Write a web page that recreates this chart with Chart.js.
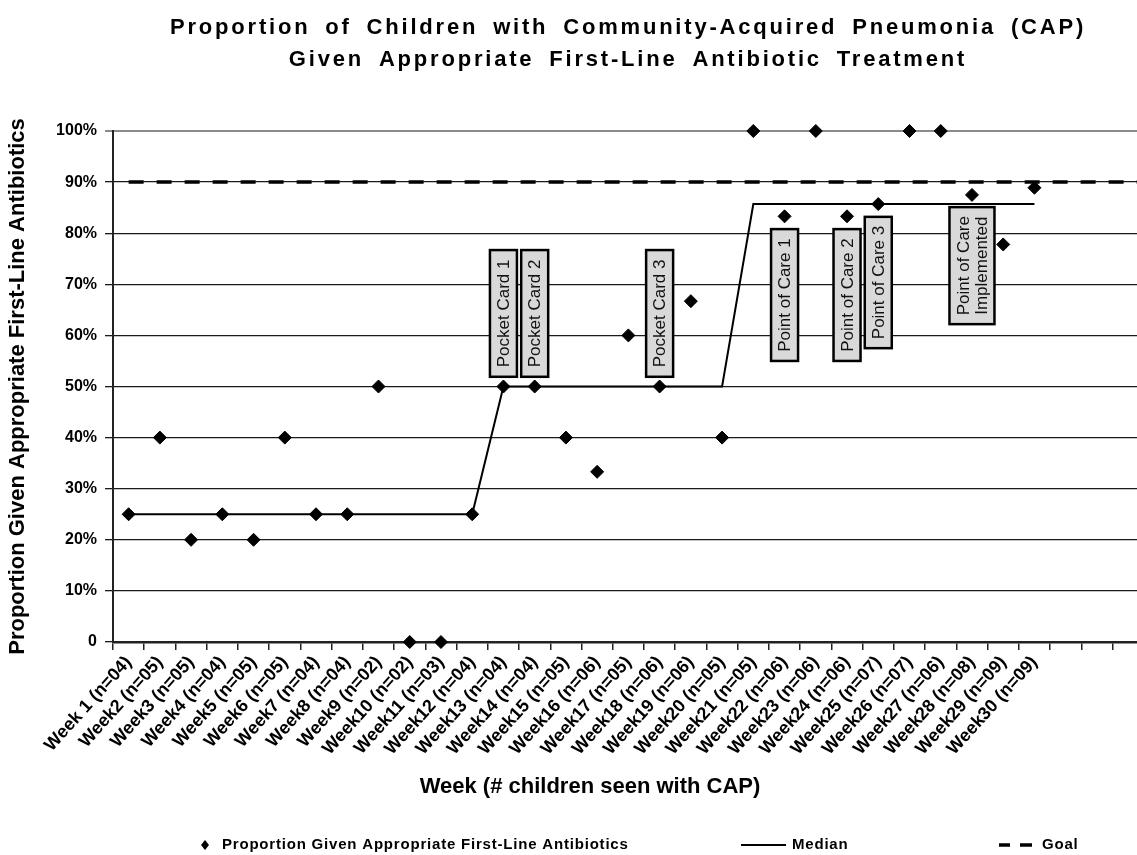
<!DOCTYPE html>
<html>
<head>
<meta charset="utf-8">
<script src="https://cdn.jsdelivr.net/npm/chart.js@4.4.1/dist/chart.umd.min.js"></script>
<style>
  html, body { margin: 0; padding: 0; background: #ffffff; }
  #wrap { width: 1137px; height: 855px; }
</style>
</head>
<body>
<div id="wrap"><canvas id="c" width="1137" height="855"></canvas></div>
<script>
// ---------------- data ----------------
const titleLines = [
  'Proportion of Children with Community-Acquired Pneumonia (CAP)',
  'Given Appropriate First-Line Antibiotic Treatment'
];
const xAxisTitle = 'Week (# children seen with CAP)';
const yAxisTitle = 'Proportion Given Appropriate First-Line Antibiotics';

const weeks = ['Week 1','Week2','Week3','Week4','Week5','Week6','Week7','Week8','Week9','Week10',
  'Week11','Week12','Week13','Week14','Week15','Week16','Week17','Week18','Week19','Week20',
  'Week21','Week22','Week23','Week24','Week25','Week26','Week27','Week28','Week29','Week30'];
const childrenSeen = ['04','05','05','04','05','05','04','04','02','02',
  '03','04','04','04','05','06','05','06','06','05',
  '05','06','06','06','07','07','06','08','09','09'];
const emptyCategories = ['', '', '', ''];

const proportion = [25, 40, 20, 25, 20, 40, 25, 25, 50, 0,
  0, 25, 50, 50, 40, 33.3, 60, 50, 66.7, 40,
  100, 83.3, 100, 83.3, 85.7, 100, 100, 87.5, 77.8, 88.9];
const median = [25, 25, 25, 25, 25, 25, 25, 25, 25, 25,
  25, 25, 50, 50, 50, 50, 50, 50, 50, 50,
  85.7, 85.7, 85.7, 85.7, 85.7, 85.7, 85.7, 85.7, 85.7, 85.7];
const goal = [90, 90, 90, 90, 90, 90, 90, 90, 90, 90,
  90, 90, 90, 90, 90, 90, 90, 90, 90, 90,
  90, 90, 90, 90, 90, 90, 90, 90, 90, 90,
  90, 90, 90, 90];
const yTickValues = [0, 10, 20, 30, 40, 50, 60, 70, 80, 90, 100];

// interventions: label lines, week number, value range of the box
const interventionLabels = [['Pocket Card 1'], ['Pocket Card 2'], ['Pocket Card 3'],
  ['Point of Care 1'], ['Point of Care 2'], ['Point of Care 3'], ['Point of Care', 'Implemented']];
const interventionWeeks = [13, 14, 18, 22, 24, 25, 28];
const interventionTop = [76.7, 76.7, 76.7, 80.8, 80.8, 83.2, 85.1];
const interventionBottom = [51.9, 51.9, 51.9, 55.0, 55.0, 57.5, 62.2];

const legendLabels = ['Proportion Given Appropriate First-Line Antibiotics', 'Median', 'Goal'];

// ---------------- chart ----------------
const categories = weeks.map((w, i) => w + ' (n=' + childrenSeen[i] + ')').concat(emptyCategories);
const FONT = '"Liberation Sans", Arial, sans-serif';
const PLOT_RIGHT = 1175; // plot area continues past the right edge of the picture

const textPlugin = {
  id: 'textPlugin',
  afterLayout(chart) {
    const x = chart.scales.x;
    x.right = PLOT_RIGHT;
    x.width = x.right - x.left;
    chart.chartArea.right = PLOT_RIGHT;
    chart.chartArea.width = PLOT_RIGHT - chart.chartArea.left;
    x.configure();
  },
  afterDatasetsDraw(chart) {
    const { ctx, scales: { x, y } } = chart;
    interventionLabels.forEach((lines, i) => {
      const cx = x.getPixelForValue(interventionWeeks[i] - 1);
      const top = y.getPixelForValue(interventionTop[i]);
      const bot = y.getPixelForValue(interventionBottom[i]);
      const lineH = 18;
      const w = lines.length * lineH + 9;
      ctx.save();
      ctx.fillStyle = '#d9d9d9';
      ctx.fillRect(cx - w / 2, top, w, bot - top);
      ctx.strokeStyle = '#000';
      ctx.lineWidth = 2.5;
      ctx.strokeRect(cx - w / 2, top, w, bot - top);
      ctx.translate(cx, (top + bot) / 2);
      ctx.rotate(-Math.PI / 2);
      ctx.font = '17px ' + FONT;
      ctx.fillStyle = '#111';
      ctx.textAlign = 'center';
      ctx.textBaseline = 'middle';
      lines.forEach((l, j) => ctx.fillText(l, 0, (j - (lines.length - 1) / 2) * lineH + 1));
      ctx.restore();
    });
  },
  afterDraw(chart) {
    const { ctx } = chart;
    // main title
    ctx.save();
    ctx.fillStyle = '#000';
    ctx.font = 'bold 22px ' + FONT;
    ctx.textAlign = 'center';
    ctx.textBaseline = 'middle';
    ctx.letterSpacing = '2.8px';
    ctx.wordSpacing = '6px';
    ctx.fillText(titleLines[0], 628, 28);
    ctx.fillText(titleLines[1], 628, 60);
    ctx.restore();

    // x axis title
    ctx.save();
    ctx.fillStyle = '#000';
    ctx.font = 'bold 22px ' + FONT;
    ctx.textAlign = 'center';
    ctx.textBaseline = 'middle';
    ctx.fillText(xAxisTitle, 590, 787);
    ctx.restore();

    // legend
    const ly = 845;
    ctx.save();
    ctx.fillStyle = '#000';
    ctx.strokeStyle = '#000';
    ctx.beginPath();
    ctx.moveTo(205, ly - 5); ctx.lineTo(209, ly); ctx.lineTo(205, ly + 5); ctx.lineTo(201, ly);
    ctx.closePath(); ctx.fill();
    ctx.lineWidth = 2;
    ctx.beginPath(); ctx.moveTo(741, ly); ctx.lineTo(786, ly); ctx.stroke();
    ctx.lineWidth = 3.5;
    ctx.beginPath(); ctx.moveTo(999, ly); ctx.lineTo(1010, ly); ctx.moveTo(1020, ly); ctx.lineTo(1032, ly); ctx.stroke();
    ctx.font = 'bold 15px ' + FONT;
    ctx.letterSpacing = '0.8px';
    ctx.textAlign = 'left';
    ctx.textBaseline = 'middle';
    ctx.fillText(legendLabels[0], 222, ly);
    ctx.fillText(legendLabels[1], 792, ly);
    ctx.fillText(legendLabels[2], 1042, ly);
    ctx.restore();
  }
};

new Chart(document.getElementById('c').getContext('2d'), {
  type: 'line',
  data: {
    labels: categories,
    datasets: [
      {
        label: legendLabels[0],
        data: proportion,
        showLine: false,
        clip: false,
        pointStyle: 'rectRot',
        pointRadius: 6.5,
        pointBorderWidth: 1,
        pointBackgroundColor: '#000',
        pointBorderColor: '#000',
        borderColor: '#000',
        backgroundColor: '#000'
      },
      {
        label: legendLabels[1],
        data: median,
        borderColor: '#000',
        borderWidth: 2,
        pointRadius: 0,
        tension: 0,
        fill: false
      },
      {
        label: legendLabels[2],
        data: goal,
        borderColor: '#000',
        borderWidth: 3.5,
        borderDash: [15, 13],
        pointRadius: 0,
        fill: false
      }
    ]
  },
  options: {
    responsive: false,
    animation: false,
    devicePixelRatio: 1,
    layout: { padding: { top: 131, left: 0, right: 0, bottom: 0 } },
    plugins: {
      legend: { display: false },
      tooltip: { enabled: false },
      title: { display: false }
    },
    scales: {
      x: {
        offset: true,
        grid: { offset: true, drawOnChartArea: false, drawTicks: true, tickLength: 8, color: '#222', lineWidth: 1.5 },
        border: { display: true, color: '#222', width: 2.5 },
        ticks: {
          autoSkip: false, maxRotation: 48, minRotation: 48, padding: 2,
          color: '#000', font: { family: FONT, size: 18, weight: 'bold' }
        },
        afterFit(s) { s.height = 213; }
      },
      y: {
        min: 0, max: 100,
        afterBuildTicks(s) { s.ticks = yTickValues.map(v => ({ value: v })); },
        ticks: {
          padding: 8, color: '#000',
          font: { family: FONT, size: 16, weight: 'bold' },
          callback: v => (v === 0 ? '0' : v + '%')
        },
        grid: {
          color: c => (c.tick && c.tick.value === 100 ? '#8a8a8a' : '#1a1a1a'),
          lineWidth: c => (c.tick && c.tick.value === 100 ? 2 : 1.3),
          tickLength: 8
        },
        border: { display: true, color: '#222', width: 2 },
        title: {
          display: true, text: yAxisTitle, color: '#000',
          font: { family: FONT, size: 22, weight: 'bold' },
          padding: { top: 5, bottom: 0 }
        },
        afterFit(s) { s.width = 113; }
      }
    }
  },
  plugins: [textPlugin]
});
</script>
</body>
</html>
